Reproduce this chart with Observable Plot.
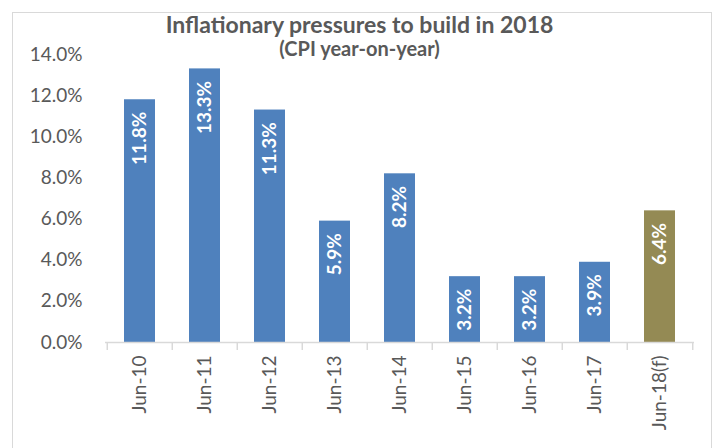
<!DOCTYPE html>
<html>
<head>
<meta charset="utf-8">
<script src="https://cdn.jsdelivr.net/npm/d3@7"></script>
<script src="https://cdn.jsdelivr.net/npm/@observablehq/plot@0.6"></script>
<style>
  html, body { margin: 0; padding: 0; background: #fff; }
  #wrap { position: relative; width: 719px; height: 448px; overflow: hidden; font-family: Lato, sans-serif; }
  #border { position: absolute; left: 12px; top: 12px; width: 700px; height: 460px; border: 1px solid #d9d9d9; box-sizing: border-box; }
  #title { position: absolute; left: 0; width: 719px; top: 11px; text-align: center; font-weight: bold; font-size: 23px; color: #595959; line-height: 26px; }
  #subtitle { position: absolute; left: 0; width: 719px; top: 37px; text-align: center; font-weight: bold; font-size: 20px; color: #595959; line-height: 22px; }
  svg { position: absolute; left: 0; top: 0; }
</style>
</head>
<body>
<div id="wrap">
  <div id="border"></div>
  <div id="chart"></div>
  <div id="title">Inflationary pressures to build in 2018</div>
  <div id="subtitle">(CPI year-on-year)</div>
</div>
<script>
const categories = ["Jun-10", "Jun-11", "Jun-12", "Jun-13", "Jun-14", "Jun-15", "Jun-16", "Jun-17", "Jun-18(f)"];
const values = [11.8, 13.3, 11.3, 5.9, 8.2, 3.2, 3.2, 3.9, 6.4];
const forecast = [false, false, false, false, false, false, false, false, true];
const yTicks = [0, 2, 4, 6, 8, 10, 12, 14];

const data = categories.map((c, i) => ({cat: c, value: values[i], forecast: forecast[i]}));

const W = 719, H = 448, mL = 105, mR = 25, mT = 54, mB = 106;
const pad = 0.526;
const step = (W - mL - mR) / categories.length;

const chart = Plot.plot({
  width: W,
  height: H,
  marginLeft: mL,
  marginRight: mR,
  marginTop: mT,
  marginBottom: mB,
  style: {fontFamily: "Lato, sans-serif", color: "#595959", background: "transparent"},
  x: {domain: categories, paddingInner: pad, paddingOuter: pad / 2, label: null},
  y: {domain: [0, 14], label: null},
  color: {domain: [false, true], range: ["#4f81bd", "#948a54"]},
  marks: [
    Plot.barY(data, {x: "cat", y: "value", fill: "forecast"}),
    Plot.ruleY([0], {stroke: "#d9d9d9", strokeWidth: 1.5}),
    Plot.ruleX(categories, {x: d => d, y1: 0, y2: 0, insetBottom: -8, dx: -step / 2, stroke: "#d9d9d9", strokeWidth: 1.5}),
    Plot.ruleX(categories.slice(-1), {x: d => d, y1: 0, y2: 0, insetBottom: -8, dx: step / 2, stroke: "#d9d9d9", strokeWidth: 1.5}),
    Plot.axisY({ticks: yTicks, tickFormat: d => d.toFixed(1) + "%", tickSize: 0, tickPadding: 23, fontSize: 19, fill: "#595959"}),
    Plot.axisX({tickSize: 0, tickPadding: 13, tickRotate: -90, fontSize: 19, fill: "#595959", letterSpacing: 2.5}),
    Plot.text(data, {x: "cat", y: "value", text: d => d.value.toFixed(1) + "%", rotate: -90, textAnchor: "end", dy: 12, fill: "white", fontWeight: "bold", fontSize: 19, letterSpacing: 1.5})
  ]
});
document.getElementById("chart").appendChild(chart);
</script>
</body>
</html>
